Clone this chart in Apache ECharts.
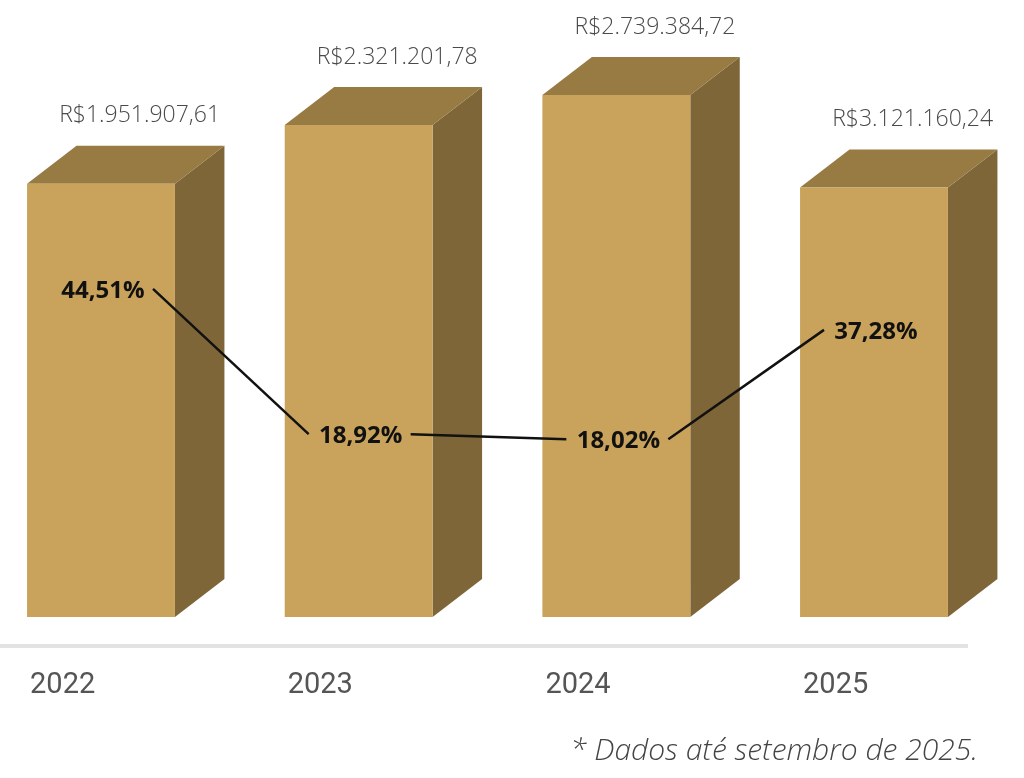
<!DOCTYPE html>
<html>
<head>
<meta charset="utf-8">
<script src="https://cdn.jsdelivr.net/npm/echarts@6/dist/echarts.min.js"></script>
<style>
  html, body { margin: 0; padding: 0; background: #ffffff; }
  #chart { width: 1024px; height: 778px; }
</style>
</head>
<body>
<div id="chart"></div>
<script>
// ---- data ----
const categories = ['2022', '2023', '2024', '2025'];
// drawn bar heights as shown in the picture (percent of plot height)
const barHeights = [72.2, 82.0, 87.0, 71.6];
// revenue labels printed above each bar
const revenueLabels = ['R$1.951.907,61', 'R$2.321.201,78', 'R$2.739.384,72', 'R$3.121.160,24'];
// growth percentages on the line
const growthPct = [44.51, 18.92, 18.02, 37.28];
const footnote = '* Dados até setembro de 2025.';

const fmtPct = v => v.toFixed(2).replace('.', ',') + '%';

const COLORS = { front: '#C9A35B', top: '#977B43', side: '#7E6638' };
const DEPTH_Y = 38;

const chart = echarts.init(document.getElementById('chart'), null, { renderer: 'canvas' });

const option = {
  animation: false,
  backgroundColor: '#ffffff',
  grid: { left: 101, right: 150, top: 17, bottom: 161 },
  xAxis: {
    type: 'category',
    data: categories,
    boundaryGap: false,
    show: false
  },
  yAxis: [
    { type: 'value', min: 0, max: 100, show: false },
    { type: 'value', min: -12.9, max: 92.7, show: false }
  ],
  graphic: [
    {
      type: 'line',
      shape: { x1: 0, y1: 646, x2: 968, y2: 646 },
      style: { stroke: '#e3e3e3', lineWidth: 4 },
      silent: true
    },
    {
      type: 'text',
      right: 46,
      top: 736,
      style: {
        text: footnote,
        font: 'italic 300 30px "Open Sans", sans-serif',
        fill: '#444444'
      }
    }
  ],
  series: [
    {
      type: 'custom',
      name: 'Receita',
      yAxisIndex: 0,
      data: categories.map((c, i) => [i, barHeights[i]]),
      renderItem: function (params, api) {
        const i = api.value(0);
        const h = api.value(1);
        const base = api.coord([i, 0]);
        const top = api.coord([i, h]);
        const band = api.size([1, 0])[0];
        const w = band * 0.574;
        const dx = band * 0.192;
        const dy = DEPTH_Y;
        const xl = base[0] - w / 2, xr = base[0] + w / 2;
        const yb = base[1], yt = top[1];
        return {
          type: 'group',
          children: [
            {
              type: 'polygon',
              shape: { points: [[xr, yt], [xr + dx, yt - dy], [xr + dx, yb - dy], [xr, yb]] },
              style: { fill: COLORS.side }
            },
            {
              type: 'polygon',
              shape: { points: [[xl, yt], [xl + dx, yt - dy], [xr + dx, yt - dy], [xr, yt]] },
              style: { fill: COLORS.top }
            },
            {
              type: 'rect',
              shape: { x: xl, y: yt, width: w, height: yb - yt },
              style: { fill: COLORS.front }
            },
            {
              type: 'text',
              x: base[0] + dx * 0.78,
              y: yt - dy - 30,
              style: {
                text: revenueLabels[i],
                font: '300 23px "Open Sans", sans-serif',
                fill: '#4a4a4a',
                align: 'center',
                verticalAlign: 'middle'
              }
            },
            {
              type: 'text',
              x: xl + 3,
              y: 686,
              style: {
                text: categories[i],
                font: '29px Roboto, sans-serif',
                fill: '#555555',
                align: 'left',
                verticalAlign: 'middle'
              }
            }
          ]
        };
      }
    },
    {
      type: 'custom',
      name: 'Crescimento',
      yAxisIndex: 1,
      z: 5,
      data: growthPct.map((v, i) => [i, v]),
      renderItem: function (params, api) {
        const i = api.value(0);
        const v = api.value(1);
        const p = api.coord([i, v]);
        const hw = 50;
        const children = [
          {
            type: 'text',
            x: p[0] + 2,
            y: p[1],
            style: {
              text: fmtPct(v),
              font: 'bold 24px "Open Sans", sans-serif',
              fill: '#111111',
              align: 'center',
              verticalAlign: 'middle'
            }
          }
        ];
        if (i < growthPct.length - 1) {
          const q = api.coord([i + 1, growthPct[i + 1]]);
          children.push({
            type: 'line',
            shape: { x1: p[0] + hw + 2, y1: p[1] - 2, x2: q[0] - hw, y2: q[1] - 2 },
            style: { stroke: '#111111', lineWidth: 2.5 }
          });
        }
        return { type: 'group', children: children };
      }
    }
  ]
};

chart.setOption(option);
</script>
</body>
</html>
